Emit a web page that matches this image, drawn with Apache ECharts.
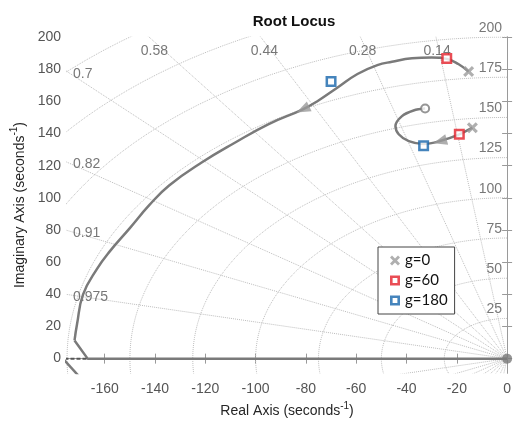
<!DOCTYPE html>
<html>
<head>
  <meta charset="utf-8">
  <title>Root Locus</title>
  <script src="https://cdn.jsdelivr.net/npm/echarts@6/dist/echarts.min.js"></script>
  <style>
    html, body { margin: 0; padding: 0; background: #fff; }
    #chart { width: 514px; height: 423px; }
  </style>
</head>
<body>
<div id="chart"></div>
<script>
  // axis ticks
  var xTicks = [-160, -140, -120, -100, -80, -60, -40, -20, 0];
  var yTicks = [0, 20, 40, 60, 80, 100, 120, 140, 160, 180, 200];

  // sgrid: damping ratios and natural frequencies
  var zetaValues = [0.14, 0.28, 0.44, 0.58, 0.7, 0.82, 0.91, 0.975];
  var wnValues = [25, 50, 75, 100, 125, 150, 175, 200, 225, 250];
  var wnLabels = [25, 50, 75, 100, 125, 150, 175, 200];

  // root locus branches (real, imag)
  var outerBranch = [[-15.3, 178.5], [-19.4, 183.2], [-24, 186.4], [-30, 187.3], [-37.8, 186.8],
    [-45.8, 184.6], [-51.6, 182.5], [-59.5, 177], [-67.4, 168.6], [-75.3, 160.2], [-81.2, 155],
    [-95, 145.7], [-108.1, 134.4], [-121.3, 122.1], [-134.4, 107.7], [-142.3, 95.4],
    [-150.1, 81], [-158, 66.7], [-163, 56], [-168.6, 40], [-171, 21.5], [-172, 11.3]];
  var realAxisBranch = [[-172, 11.3], [-166.8, 0], [0, 0]];
  var farBranch = [[-176, 0], [-166.8, 0]];
  var lowerBranch = [[-176.6, 0], [-170.5, -10.5]];
  var innerBranch = [[-13.8, 143.6], [-19, 139.5], [-26.7, 135.3], [-33.2, 133.4], [-39.1, 135.2],
    [-43.1, 139.5], [-44.4, 144.6], [-41.8, 150.8], [-37.2, 154.3], [-32.6, 155.5]];

  // gain markers
  var gain0 = [[-15.3, 178.5], [-13.8, 143.6]];
  var gain60 = [[-24, 186.6], [-19, 139.5]];
  var gain180 = [[-70, 172.3], [-33.2, 132.3]];
  var locusZeros = [[-32.6, 155.5]];
  var originZero = [[0, 0]];

  // direction arrows: [point, from, to]
  var arrows = [
    [[-81.2, 155], [-75.3, 160.2], [-91, 148.5]],
    [[-26.7, 135.1], [-19, 139.5], [-33.2, 133.4]]
  ];

  var gridColor = '#bdbdbd';
  var textColor = '#555';
  var font = 'Liberation Sans';
  var red = '#e3202a', blue = '#1765ab';
  var crossPath = 'path://M2,0 L5,3 L8,0 L10,2 L7,5 L10,8 L8,10 L5,7 L2,10 L0,8 L3,5 L0,2 Z';
  var hollowSquare = 'path://M0,0 L10,0 L10,10 L0,10 Z M2.6,2.6 L2.6,7.4 L7.4,7.4 L7.4,2.6 Z';

  var chart = echarts.init(document.getElementById('chart'));

  var series = [];

  // circles of constant natural frequency
  wnValues.forEach(function (wn) {
    var pts = [];
    for (var a = 0; a <= 180; a += 2) {
      var t = a * Math.PI / 180;
      pts.push([-wn * Math.sin(t), wn * Math.cos(t)]);
    }
    series.push({
      type: 'line', data: pts, showSymbol: false, silent: true, z: 1,
      lineStyle: { color: gridColor, width: 1, type: 'dotted' }
    });
  });

  // rays of constant damping
  zetaValues.forEach(function (z) {
    var s = Math.sqrt(1 - z * z), R = 320;
    series.push({
      type: 'line', data: [[-z * R, s * R], [0, 0], [-z * R, -s * R]], showSymbol: false, silent: true, z: 1,
      lineStyle: { color: gridColor, width: 1, type: 'dotted' }
    });
  });

  // damping labels
  var dampData = zetaValues.map(function (z) {
    var s = Math.sqrt(1 - z * z);
    if (-197 * z / s > -175) {
      return { value: [-197 * z / s, 191], label: { position: 'inside' } };
    }
    return { value: [-175, 175 * s / z - 1.5], label: { position: 'right', distance: 6 } };
  });
  series.push({
    type: 'scatter', data: dampData, symbolSize: 0, silent: true, clip: false, z: 3,
    label: {
      show: true, color: textColor, fontSize: 14, fontFamily: font,
      formatter: function (p) { return String(zetaValues[p.dataIndex]); }
    }
  });

  // natural frequency labels
  series.push({
    type: 'scatter', data: wnLabels.map(function (w) { return [0, w]; }), symbolSize: 0, silent: true, clip: false, z: 3,
    label: {
      show: true, position: 'left', distance: 5, offset: [0, -9], color: textColor, fontSize: 14, fontFamily: font,
      formatter: function (p) { return String(wnLabels[p.dataIndex]); }
    }
  });

  var locusLine = { color: '#7a7a7a', width: 2.5 };
  series.push({ type: 'line', data: outerBranch, smooth: 0.45, showSymbol: false, lineStyle: locusLine, z: 4 });
  series.push({ type: 'line', data: realAxisBranch, showSymbol: false, lineStyle: locusLine, z: 4 });
  series.push({ type: 'line', data: lowerBranch, showSymbol: false, lineStyle: locusLine, z: 4 });
  series.push({ type: 'line', data: innerBranch, smooth: 0.35, showSymbol: false, lineStyle: locusLine, z: 4 });
  series.push({ type: 'line', data: farBranch, showSymbol: false, z: 5,
    lineStyle: { color: '#555', width: 2, type: [4, 2] } });

  // zeros
  series.push({ type: 'scatter', data: locusZeros, symbol: 'circle', symbolSize: 8, z: 6,
    itemStyle: { color: '#fff', borderColor: '#7a7a7a', borderWidth: 2 } });
  series.push({ type: 'scatter', data: originZero, symbol: 'circle', symbolSize: 10, clip: false, z: 6,
    itemStyle: { color: '#7a7a7a' } });

  // arrows
  series.push({ type: 'scatter', id: 'arrows', data: arrows.map(function (a) { return a[0]; }),
    symbol: 'triangle', symbolSize: [11, 14], z: 6, itemStyle: { color: '#9a9a9a' } });

  // gain markers
  series.push({ type: 'scatter', name: 'g=0', data: gain0, symbol: crossPath, symbolSize: 11, z: 7,
    itemStyle: { color: '#9b9b9b' } });
  series.push({ type: 'scatter', name: 'g=60', data: gain60, symbol: 'rect', symbolSize: 8.5, z: 7,
    itemStyle: { color: '#fff', borderColor: red, borderWidth: 2.5 } });
  series.push({ type: 'scatter', name: 'g=180', data: gain180, symbol: 'rect', symbolSize: 8.5, z: 7,
    itemStyle: { color: '#fff', borderColor: blue, borderWidth: 2.5 } });

  var axisLine = { show: true, lineStyle: { color: '#9a9a9a', width: 1 } };
  var supRich = {
    sup: { fontSize: 10, fontFamily: font, color: '#262626', verticalAlign: 'bottom', padding: [0, 0, 7, 0] },
    main: { fontSize: 14, fontFamily: font, color: '#262626', verticalAlign: 'bottom' }
  };

  chart.setOption({
    animation: false,
    backgroundColor: '#fff',
    title: {
      text: 'Root Locus', left: 289, top: 9, textAlign: 'center',
      textStyle: { fontSize: 15, fontWeight: 'bold', fontFamily: font, color: '#111' }
    },
    legend: {
      data: [
        { name: 'g=0', icon: crossPath, itemStyle: { color: '#9b9b9b', borderWidth: 0 } },
        { name: 'g=60', icon: hollowSquare, itemStyle: { color: red, borderWidth: 0 } },
        { name: 'g=180', icon: hollowSquare, itemStyle: { color: blue, borderWidth: 0 } }
      ],
      orient: 'vertical', left: 378, top: 247,
      padding: [6, 7, 6, 12], itemGap: 5, itemWidth: 10, itemHeight: 10,
      backgroundColor: '#fff', borderColor: '#444', borderWidth: 1,
      textStyle: { fontFamily: 'Lato', fontSize: 15, color: '#111' }
    },
    grid: { left: 67, right: 3, top: 37, bottom: 46 },
    xAxis: [{
      type: 'value', min: -175, max: 0,
      name: '{main|Real Axis (seconds}{sup|-1}{main|)}', nameLocation: 'middle', nameGap: 26,
      nameTextStyle: { rich: supRich },
      axisLine: axisLine, splitLine: { show: false },
      axisTick: { inside: true, length: 5, lineStyle: { color: '#9a9a9a' }, customValues: xTicks },
      axisLabel: { customValues: xTicks, color: textColor, fontSize: 14, fontFamily: font, margin: 9 }
    }, {
      type: 'value', min: -175, max: 0, position: 'top',
      axisLine: axisLine, splitLine: { show: false },
      axisTick: { inside: true, length: 5, lineStyle: { color: '#9a9a9a' }, customValues: xTicks },
      axisLabel: { show: false }
    }],
    yAxis: [{
      type: 'value', min: -9, max: 200,
      name: '{main|Imaginary Axis (seconds}{sup|-1}{main|)}', nameLocation: 'middle', nameGap: 35,
      nameTextStyle: { rich: supRich },
      axisLine: axisLine, splitLine: { show: false },
      axisTick: { inside: true, length: 5, lineStyle: { color: '#9a9a9a' }, customValues: yTicks },
      axisLabel: { customValues: yTicks, color: textColor, fontSize: 14, fontFamily: font, margin: 6 }
    }, {
      type: 'value', min: -9, max: 200, position: 'right',
      axisLine: axisLine, splitLine: { show: false },
      axisTick: { inside: true, length: 5, lineStyle: { color: '#9a9a9a' }, customValues: yTicks },
      axisLabel: { show: false }
    }],
    series: series
  });

  // orient arrows along the locus in pixel space
  var arrowData = arrows.map(function (a) {
    var p = chart.convertToPixel({ gridIndex: 0 }, a[1]);
    var q = chart.convertToPixel({ gridIndex: 0 }, a[2]);
    var ang = Math.atan2(-(q[1] - p[1]), q[0] - p[0]) * 180 / Math.PI;
    return { value: a[0], symbolRotate: ang - 90 };
  });
  chart.setOption({ series: [{ id: 'arrows', data: arrowData }] });
</script>
</body>
</html>
